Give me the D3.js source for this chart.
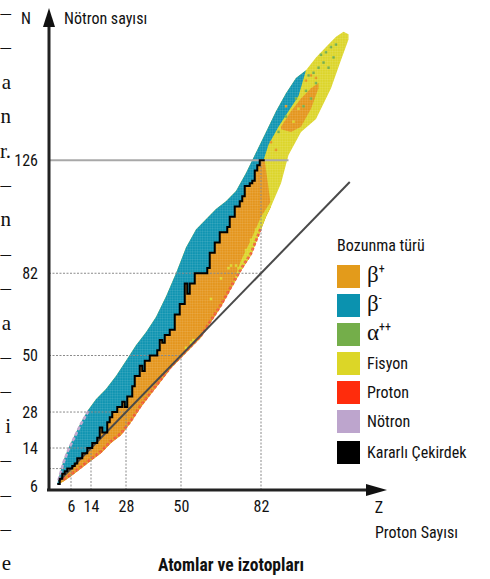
<!DOCTYPE html>
<html><head><meta charset="utf-8">
<script src="https://cdn.jsdelivr.net/npm/d3@7"></script>
<style>
html,body{margin:0;padding:0;background:#fff;}
svg{display:block;}
text{font-family:"Roboto Condensed","Liberation Sans Narrow",Roboto,"DejaVu Sans",sans-serif;fill:#111;}
</style></head><body>
<svg id="c" width="490" height="579"></svg>
<script>
// ---------------- DATA ----------------
const yTickValues = [6, 14, 28, 50, 82, 126];
const xTickValues = [6, 14, 28, 50, 82];
const gridValues  = [6, 14, 28, 50, 82];

// neutron-rich (upper-left) edge of the band
const upperZ = [1, 3, 5, 7, 10, 13, 16, 20, 24, 28, 32, 36, 40, 44, 48, 52, 56, 60, 64, 68, 72, 76, 80, 84, 88, 92, 96, 100, 104, 108, 112, 115, 117];
const upperN = [2, 9, 14, 18, 24, 29, 33, 37, 42, 48, 54, 59, 65, 73, 82, 92, 99, 103, 107, 110, 114, 121, 129, 137, 145, 152, 158, 161, 166, 170, 174, 176, 175];

// proton-rich (lower-right) edge of the band
const lowerZ = [1, 3, 6, 10, 14, 18, 22, 26, 30, 34, 38, 42, 46, 50, 54, 58, 62, 66, 70, 74, 78, 82, 84, 86, 90, 93, 98, 104, 110, 114, 117];
const lowerN = [0, 1, 3, 6, 9, 12, 16, 19, 24, 30, 35, 40, 45, 49, 53, 57, 63, 69, 76, 83, 89, 99, 104, 108, 117, 128, 137, 142, 154, 165, 173];

// stable nuclei (Kararlı çekirdek): neutron number per Z
const stableZ = d3.range(1, 84);
const stableN = [0, 2, 4, 5, 6, 6, 7, 8, 10, 10, 12, 12, 14, 14, 16, 16, 18, 22, 20, 20,
                 24, 26, 28, 28, 30, 30, 32, 30, 34, 34, 38, 42, 42, 46, 44, 48, 48, 50, 50, 50,
                 52, 56, 55, 58, 58, 60, 60, 66, 66, 70, 70, 78, 74, 78, 78, 82, 82, 82, 82, 82,
                 84, 90, 90, 94, 94, 98, 98, 98, 100, 104, 104, 108, 108, 110, 112, 116, 116, 117, 118, 122,
                 124, 126, 126];

// lower boundary of the beta- region above Z = 82
const tealLowZ = [83, 85, 89, 93, 97, 100];
const tealLowN = [126, 132, 139, 145, 151, 161];

// fission strip along the proton-rich edge
const stripZ = [70, 74, 78, 82, 86];
const stripTopN = [76, 87, 95, 104, 110];

// beta+ region among the heavy nuclei
const heavyOrangeZ = [90, 94, 98, 102, 105];
const heavyOrangeLowN = [138, 137, 139, 146, 154];
const heavyOrangeHighN = [139, 145, 150, 154, 156];

// scattered cells
const fissionCells = [[52,53],[54,55],[55,56],[66,80],[69,84],[70,85],[72,85],[73,84],[76,91],[78,95],[80,99],[62,72],[95,141],[97,146]];
const betaPlusCells = [[100,157],[102,159],[104,158],[92,147],[86,133],[88,130]];
const alphaCells = [[89,137],[92,143],[96,150],[99,147],[100,153],[101,159],[102,150],[103,160],[104,156],[105,162],[106,167],[107,164],[108,168],[110,170],[112,171],[109,162],[111,166]];

// legend
const legendLabels = ["β+", "β-", "α++", "Fisyon", "Proton", "Nötron", "Kararlı Çekirdek"];
const legendColors = ["#E39B1B", "#0B92AF", "#74AE4A", "#DCD627", "#FF2C0C", "#BDA5CD", "#000000"];

// cropped text from the neighbouring column
const leftChars = ["–","–","a","n","r.","–","n","–","–","a","–","–","i","–","–","–","e"];

// ---------------- DRAW ----------------
const COL = {orange:"#E4951C", teal:"#0F94B1", yellow:"#DCD52A", green:"#74AE4A", red:"#F04A3A", lilac:"#BDA5CD"};
const svg = d3.select("#c");
const x = d3.scaleLinear().domain([0, 130]).range([56, 381]);
const y = d3.scaleLinear().domain([0, 185]).range([484, 484 - 185 * 2.57]);

const zip = (zs, ns) => zs.map((z, i) => [z, ns[i]]);
const line = d3.line().x(d => x(d[0])).y(d => y(d[1]));
const poly = pts => line(pts) + "Z";

const upper = zip(upperZ, upperN);
const lower = zip(lowerZ, lowerN);
const stair = [];
stableZ.forEach((z, i) => { stair.push([z - 0.5, stableN[i]]); stair.push([z + 0.5, stableN[i]]); });

// cell texture pattern
const cw = x(1) - x(0), chh = y(0) - y(1);
const defs = svg.append("defs");
const pat = defs.append("pattern").attr("id", "cells").attr("patternUnits", "userSpaceOnUse")
  .attr("x", x(0.5)).attr("y", y(0.5)).attr("width", cw).attr("height", chh);
pat.append("path").attr("d", `M0,0H${cw}M0,0V${chh}`).attr("stroke", "#fff").attr("stroke-width", 0.5).attr("stroke-opacity", 0.35);

const bandShape = poly(upper.concat(lower.slice().reverse()));
const band = svg.append("g");
band.append("path").attr("d", bandShape).attr("fill", COL.yellow);
band.append("path")
  .attr("d", poly(upper.filter(d => d[0] <= 100)
      .concat(zip(tealLowZ, tealLowN).reverse())
      .concat(stair.slice().reverse())))
  .attr("fill", COL.teal);
band.append("path")
  .attr("d", poly(lower.filter(d => d[0] <= 86).concat(stair.slice().reverse())))
  .attr("fill", COL.orange);
band.append("path")
  .attr("d", poly(lower.filter(d => d[0] >= 70 && d[0] <= 86).concat(zip(stripZ, stripTopN).reverse())))
  .attr("fill", COL.yellow);
band.append("path")
  .attr("d", poly(zip(heavyOrangeZ, heavyOrangeLowN).concat(zip(heavyOrangeZ, heavyOrangeHighN).reverse())))
  .attr("fill", COL.orange);
band.append("path")
  .attr("d", d3.line().x(d => x(d[0])).y(d => y(d[1] + 0.7))(lower.filter(d => d[0] >= 3 && d[0] <= 82)))
  .attr("fill", "none").attr("stroke", COL.red).attr("stroke-width", 2.8).attr("stroke-dasharray", "3 2").attr("opacity", 0.8);
band.append("path")
  .attr("d", d3.line().x(d => x(d[0])).y(d => y(d[1] - 0.6))(upper.filter(d => d[0] <= 13)))
  .attr("fill", "none").attr("stroke", COL.lilac).attr("stroke-width", 2.6).attr("stroke-dasharray", "4 2");
const cell = (cls, data, color) => band.selectAll("rect." + cls).data(data).join("rect").attr("class", cls)
  .attr("x", d => x(d[0] - 0.5)).attr("y", d => y(d[1] + 0.5))
  .attr("width", cw).attr("height", chh).attr("fill", color);
cell("f", fissionCells, COL.yellow);
cell("b", betaPlusCells, COL.orange);
cell("a", alphaCells, COL.green);
band.append("path").attr("d", bandShape).attr("fill", "url(#cells)");

// grid lines
const AX = 49, AY = 490;
const grid = svg.append("g").attr("fill", "none");
gridValues.forEach(m => {
  const top = m === 82 ? 126 : m;
  grid.append("path").attr("d", `M${AX},${y(m)}H${x(m)}`).attr("stroke", "#8a8a8a").attr("stroke-width", 1).attr("stroke-dasharray", "2 1.5");
  grid.append("path").attr("d", `M${x(m)},${AY}V${y(top)}`).attr("stroke", "#8a8a8a").attr("stroke-width", 1).attr("stroke-dasharray", "2 1.5");
});
grid.append("path").attr("d", `M${AX},${y(126)}H${x(93)}`).attr("stroke", "#a8a8a8").attr("stroke-width", 2);

// N = Z line
svg.append("path").attr("d", line([[1, 1], [117.5, 117.5]])).attr("stroke", "#4a4a4a").attr("stroke-width", 2).attr("fill", "none");

// stable line
svg.append("path").attr("d", line(stair)).attr("fill", "none").attr("stroke", "#000").attr("stroke-width", 2).attr("stroke-linejoin", "miter");

// axes
const axG = svg.append("g");
axG.append("path").attr("d", `M${AX},${AY}V26`).attr("stroke", "#222").attr("stroke-width", 3);
axG.append("path").attr("d", `M${AX},8L${AX + 6},27L${AX - 6},27Z`).attr("fill", "#111");
axG.append("path").attr("d", `M${AX - 2},${AY}H368`).attr("stroke", "#222").attr("stroke-width", 3);
axG.append("path").attr("d", `M387,${AY}L366,${AY - 6}L366,${AY + 6}Z`).attr("fill", "#111");

const yAxis = svg.append("g").attr("transform", `translate(${AX},0)`)
  .call(d3.axisLeft(y).tickValues(yTickValues).tickSize(0).tickPadding(11));
yAxis.select(".domain").remove();
yAxis.selectAll("text").style("font-size", "16px").attr("fill", "#111");
yAxis.selectAll(".tick").filter(d => d === 6).attr("transform", `translate(0,${y(0) + 3})`);

const xAxis = svg.append("g").attr("transform", `translate(0,${AY})`)
  .call(d3.axisBottom(x).tickValues(xTickValues).tickSize(0).tickPadding(11));
xAxis.select(".domain").remove();
xAxis.selectAll("text").style("font-size", "16px").attr("fill", "#111");
yAxis.attr("font-family", null); xAxis.attr("font-family", null);

svg.append("text").attr("x", 26).attr("y", 24).attr("text-anchor", "middle").style("font-size", "16px").text("N");
svg.append("text").attr("x", 64).attr("y", 24).style("font-size", "16px").text("Nötron sayısı");
svg.append("text").attr("x", 379).attr("y", 513).attr("text-anchor", "middle").style("font-size", "16px").text("Z");
svg.append("text").attr("x", 375).attr("y", 538).style("font-size", "16px").text("Proton Sayısı");
svg.append("text").attr("x", 231).attr("y", 571).attr("text-anchor", "middle").style("font-size", "17.5px").style("font-weight", "bold").text("Atomlar ve izotopları");

// legend
const lg = svg.append("g").attr("transform", "translate(337,0)");
lg.append("text").attr("x", 0).attr("y", 251).style("font-size", "16px").text("Bozunma türü");
const rowY = [265, 294, 323, 352, 381, 410, 441];
legendLabels.forEach((lab, i) => {
  lg.append("rect").attr("x", 0).attr("y", rowY[i]).attr("width", 23).attr("height", 23).attr("fill", legendColors[i]);
  const t = lg.append("text").attr("x", 30).attr("y", rowY[i] + 17).style("font-size", "16px");
  if (i < 3) {
    const base = lab[0], sup = lab.slice(1);
    t.append("tspan").text(base).style("font-family", "'Liberation Serif','DejaVu Serif',serif").style("font-size", "23px");
    t.append("tspan").text(sup).attr("dy", -9).style("font-size", "12px");
  } else {
    t.text(lab);
  }
});

// cropped neighbouring text at left edge
svg.append("g").selectAll("text").data(leftChars).join("text")
  .attr("x", 11).attr("y", (d, i) => 13 + i * 34.4).attr("text-anchor", "end").attr("dominant-baseline", "central")
  .style("font-family", "'Liberation Serif','DejaVu Serif',serif").style("font-size", "21px").text(d => d);
</script>
</body></html>
